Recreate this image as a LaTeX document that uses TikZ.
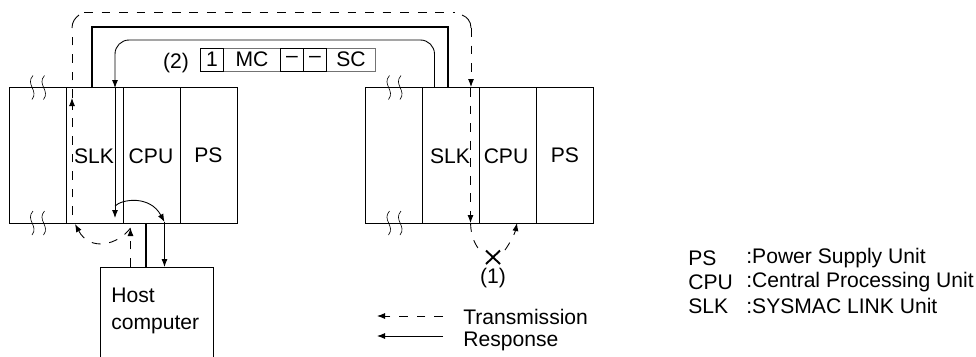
\documentclass[tikz,border=0pt]{standalone}
\usepackage{fontspec}
\setmainfont{Liberation Sans}
\usetikzlibrary{arrows.meta, positioning, calc}

\begin{document}
\begin{tikzpicture}[
    x=0.02cm, y=-0.02cm,
    node distance=0pt,
    lbl/.style={inner sep=0pt, font=\fontsize{12}{14}\selectfont},
    cell/.style={rectangle, draw, line width=0.5pt, outer sep=0pt, inner sep=0pt, minimum width=1.14cm, minimum height=2.71cm, font=\fontsize{12}{14}\selectfont},
    field/.style={rectangle, draw, line width=0.5pt, outer sep=0pt, inner sep=0pt, minimum height=0.46cm, font=\fontsize{12}{14}\selectfont},
    paler/.style={draw=black!55, line width=0.4pt},
    bus/.style={line width=1.6pt},
    arrow/.style={-{Latex[length=1.6mm, width=1.2mm]}, line width=0.5pt},
    dashline/.style={dash pattern=on 5pt off 5pt, line width=0.5pt},
    dasharrow/.style={arrow, dashline},
    breakline/.style={line width=0.35pt}
]
    \useasboundingbox (0,0) rectangle (976,356);

    % Left PC
    \node[cell, anchor=north west] (lbase) at (9,87.5) {};
    \node[cell, right=of lbase] (lslk) {};
    \node[cell, right=of lslk] (lcpu) {};
    \node[cell, right=of lcpu] (lps) {PS};
    \node[lbl] (lslktext) at (94,156) {SLK};
    \node[lbl] (lcputext) at (151,156) {CPU};

    % Right PC
    \node[cell, anchor=north west] (rbase) at (365.5,87.5) {};
    \node[cell, right=of rbase] (rslk) {};
    \node[cell, right=of rslk] (rcpu) {};
    \node[cell, right=of rcpu] (rps) {PS};
    \node[lbl] (rslktext) at (450,156) {SLK};
    \node[lbl] (rcputext) at (506,156) {CPU};

    % Break marks
    \foreach \bx/\by in {33/87.5, 44.5/87.5, 33/223, 44.5/223, 389.5/87.5, 401/87.5, 389.5/223, 401/223}
        \draw[breakline] (\bx,\by-12) .. controls (\bx-8,\by-3) and (\bx+6,\by+3) .. (\bx-1,\by+12);

    % Host computer
    \node[rectangle, draw, line width=0.5pt, outer sep=0pt, minimum width=2.26cm, minimum height=1.84cm, anchor=north west] (host) at (100,267) {};
    \node[lbl, align=left, anchor=west] (hosttext) at (111,311) {Host\\[1.5pt]computer};

    % Frame format
    \node[field, paler, minimum width=0.46cm, anchor=north west] (fone) at (200.5,48) {1};
    \node[field, paler, minimum width=1.14cm, right=of fone] (fmc) {MC};
    \node[field, paler, minimum width=0.46cm, right=of fmc] (fa) {--};
    \node[field, paler, minimum width=0.46cm, right=of fa] (fb) {--};
    \node[field, paler, minimum width=0.98cm, right=of fb] (fsc) {SC};
    \draw[line width=0.5pt] (fone.north west) rectangle (fone.south east);
    \draw[line width=0.5pt] (fa.north west) rectangle (fb.south east) (fa.north east) -- (fa.south east);
    \node[lbl] (ftag) at (176,63) {(2)};

    % Data link cable
    \draw[bus] (92,88) |- (448,27) -- (448,88);
    \draw[bus] (146,223) -- (146,267);

    % Response
    \coordinate (rspa) at (434.5,87.5);
    \coordinate (rspb) at (115,88);
    \coordinate (rspc) at (115,218);
    \draw[arrow, rounded corners=8pt] (rspa) |- (rspb |- 0,40) -- (rspb);
    \draw[arrow] (rspb) -- (rspc);
    \coordinate (hsta) at (164.5,267);
    \coordinate (hstb) at (164.5,222);
    \draw[arrow] (hstb) -- (hsta);
    \coordinate (arca) at (115,206);
    \draw[arrow] (arca) .. controls (122,199) and (150,195) .. (hstb);

    % Transmission
    \coordinate (tsta) at (130.5,267);
    \coordinate (tstb) at (130.5,228);
    \coordinate (tstc) at (75,224);
    \draw[dasharrow] (tsta) -- (tstb);
    \draw[dasharrow] (tstb) .. controls (118,245) and (90,252) .. (tstc);
    \coordinate (tsla) at (72,215);
    \coordinate (tslb) at (72,98);
    \coordinate (tslc) at (72,28);
    \coordinate (tsld) at (84,12);
    \coordinate (tsle) at (455,12);
    \coordinate (tslf) at (471,28);
    \draw[dasharrow] (tsla) -- (tslb);
    \draw[dashline] (tslb) -- (tslc);
    \draw[line width=0.5pt] (tslc) .. controls (72,22) and (75,18) .. (79,15);
    \draw[dashline] (tsld) -- (tsle);
    \draw[line width=0.5pt] (462,15) .. controls (467,17) and (471,21) .. (tslf);
    \draw[dasharrow] (tslf) -- (471,87);
    \draw[dasharrow] (470.5,88) -- (470.5,223);
    \draw[dashline] (470.5,223) .. controls (471,238) and (476,246) .. (481,252);
    \draw[dasharrow] (505,250) .. controls (510,243) and (515,233) .. (517,223);

    % Failure mark
    \node[lbl] (fault) at (493,278) {(1)};
    \draw[line width=1.1pt] (486,250.5) -- (500,264) (500,250.5) -- (486,264);

    % Legend of lines
    \coordinate (lega) at (443,316);
    \coordinate (legb) at (377,316);
    \coordinate (legc) at (443,336);
    \coordinate (legd) at (377,336);
    \draw[dasharrow] (lega) -- (legb);
    \draw[arrow] (legc) -- (legd);
    \node[lbl, anchor=west] (legt) at (463,317) {Transmission};
    \node[lbl, anchor=west] (legr) at (463,341) {Response};

    % Abbreviations
    \node[lbl, anchor=west] (absa) at (688,258) {PS};
    \node[lbl, anchor=west] (absb) at (688,282) {CPU};
    \node[lbl, anchor=west] (absc) at (688,306) {SLK};
    \node[lbl, anchor=west] (desa) at (746,258) {:Power Supply Unit};
    \node[lbl, anchor=west] (desb) at (746,282) {:Central Processing Unit};
    \node[lbl, anchor=west] (desc) at (746,306) {:SYSMAC LINK Unit};
\end{tikzpicture}
\end{document}
